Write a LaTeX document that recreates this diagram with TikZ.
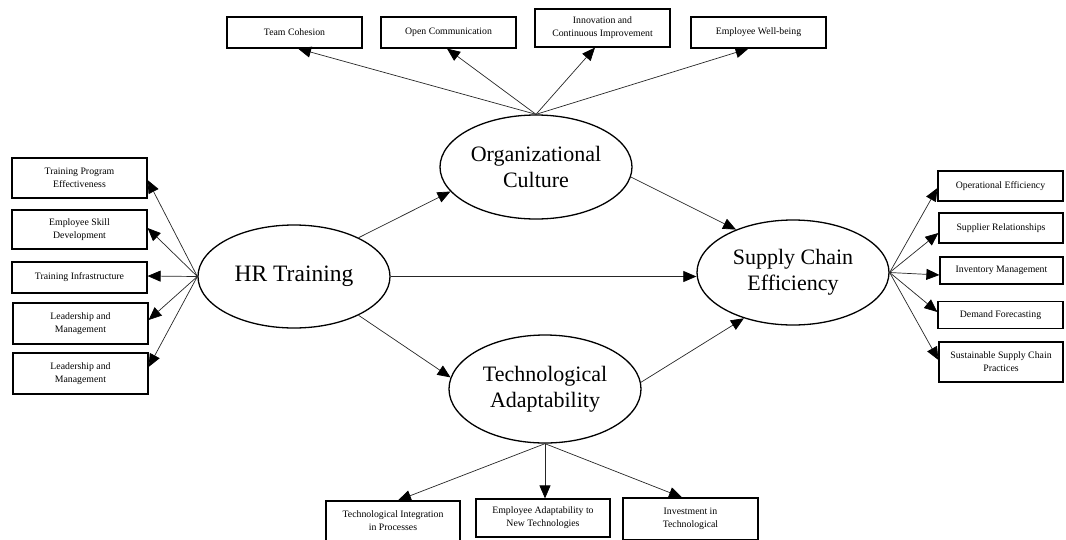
\documentclass[tikz,border=0pt]{standalone}
\usepackage{fontspec}
\setmainfont{Liberation Serif}
\usetikzlibrary{arrows.meta,shapes.geometric}
\begin{document}
\begin{tikzpicture}[x=1pt,y=-1pt,
  concept/.style={ellipse, draw, line width=1.3pt, minimum width=192pt,
    minimum height=#1, inner sep=0pt, align=center,
    font=\fontsize{22}{26}\selectfont},
  concept/.default=104pt,
  itembox/.style={rectangle, draw, line width=1.2pt, inner sep=0pt,
    align=center, font=\fontsize{9.8}{13}\selectfont},
  link/.style={-{Triangle[length=13pt,width=11pt,color=black]}, line width=0.7pt, draw=black!85}]
\useasboundingbox (0,0) rectangle (1066,539);

% central constructs
\node[concept=103pt, font=\fontsize{23.5}{26}\selectfont] (hr) at (294,276.5) {HR Training};
\node[concept] (oc) at (536,167) {Organizational\\Culture};
\node[concept=108pt] (ta) at (545,389) {Technological\\Adaptability};
\node[concept=105pt] (sce) at (793,272.5) {Supply Chain\\Efficiency};

% culture indicators
\node[itembox, minimum width=135pt, minimum height=31pt] (tc)  at (294.5,32.5) {Team Cohesion};
\node[itembox, minimum width=135pt, minimum height=31pt] (ocm) at (448.5,32.5) {Open Communication};
\node[itembox, minimum width=135pt, minimum height=38pt] (inn) at (602.5,28) {Innovation and\\Continuous Improvement};
\node[itembox, minimum width=135pt, minimum height=31pt] (ewb) at (758.5,32.5) {Employee Well-being};

% training indicators
\node[itembox, minimum width=135pt, minimum height=40pt] (tpe)  at (79.5,178) {Training Program\\Effectiveness};
\node[itembox, minimum width=135pt, minimum height=39pt] (esd)  at (79.5,229.5) {Employee Skill\\Development};
\node[itembox, minimum width=135pt, minimum height=31pt] (tinf) at (79.5,277.5) {Training Infrastructure};
\node[itembox, minimum width=135pt, minimum height=41pt] (lma)  at (80.5,323.5) {Leadership and\\Management};
\node[itembox, minimum width=135pt, minimum height=41pt] (lmb)  at (80.5,373.5) {Leadership and\\Management};

% efficiency indicators
\node[itembox, minimum width=125pt, minimum height=30pt] (opf) at (1000.5,186) {Operational Efficiency};
\node[itembox, minimum width=124pt, minimum height=30pt] (sr)  at (1001,228) {Supplier Relationships};
\node[itembox, minimum width=123pt, minimum height=27pt] (im)  at (1001.5,270.5) {Inventory Management};
\node[itembox, minimum width=125pt, minimum height=27pt] (df)  at (1000.5,315) {Demand Forecasting};
\node[itembox, minimum width=124pt, minimum height=40pt] (ssc) at (1001,362) {Sustainable Supply Chain\\Practices};

% adaptability indicators
\node[itembox, minimum width=134pt, minimum height=40pt] (tip) at (393,521) {Technological Integration\\in Processes};
\node[itembox, minimum width=134pt, minimum height=38pt] (eat) at (543,518) {Employee Adaptability to\\New Technologies};
\node[itembox, minimum width=135pt, minimum height=42pt] (itc) at (690.5,519) {Investment in\\Technological};

% structural paths
\draw[link] (hr.31.8) -- (oc.196.6);
\draw[link] (hr.329) -- (ta.173.5);
\draw[link] (hr.east) -- (hr.east -| sce.west);
\draw[link] (oc.354.7) -- (sce.143.1);
\draw[link] (ta.4) -- (sce.223.8);

% culture measurement paths
\draw[link] (oc.north) -- ([xshift=3.5pt]tc.south);
\draw[link] (oc.north) -- ([xshift=-1.5pt]ocm.south);
\draw[link] (oc.north) -- ([xshift=-7.5pt]inn.south);
\draw[link] (oc.north) -- ([xshift=-10pt]ewb.south);

% training measurement paths
\draw[link] (hr.west) -- ([yshift=-2pt]tpe.east);
\draw[link] (hr.west) -- ([yshift=1.5pt]esd.east);
\draw[link] (hr.west) -- ([yshift=1.5pt]tinf.east);
\draw[link] (hr.west) -- ([yshift=3.5pt]lma.east);
\draw[link] (hr.west) -- ([yshift=6.5pt]lmb.east);

% efficiency measurement paths
\draw[link] (sce.east) -- ([yshift=-2pt]opf.west);
\draw[link] (sce.east) -- ([yshift=-5pt]sr.west);
\draw[link] (sce.east) -- ([yshift=-4.5pt]im.west);
\draw[link] (sce.east) -- ([yshift=3pt]df.west);
\draw[link] (sce.east) -- ([yshift=2pt]ssc.west);

% adaptability measurement paths
\draw[link] (ta.south) -- ([xshift=5pt]tip.north);
\draw[link] (ta.south) -- ([xshift=2pt]eat.north);
\draw[link] (ta.south) -- ([xshift=-8.5pt]itc.north);
\end{tikzpicture}
\end{document}
